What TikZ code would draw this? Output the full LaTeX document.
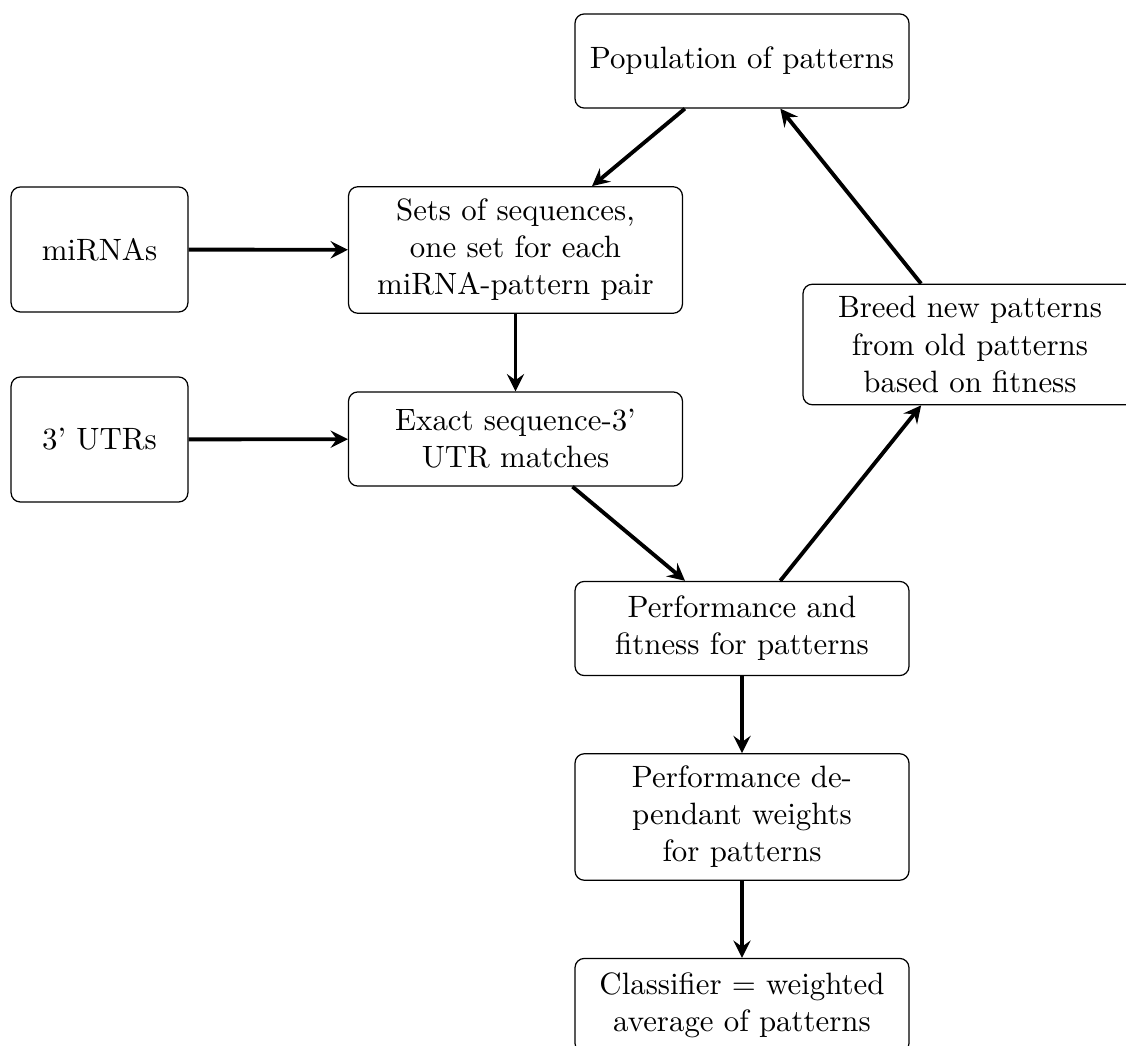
\documentclass[tikz,border=0pt]{standalone}
\usetikzlibrary{arrows.meta}
\begin{document}
\begin{tikzpicture}[x=0.324pt,y=-0.324pt,
  box/.style={draw,line width=0.4pt,rounded corners=3pt,align=center,
    inner sep=4pt,minimum width=108.2pt,minimum height=30.5pt},
  src/.style={draw,line width=0.4pt,rounded corners=3pt,align=center,
    inner sep=4pt,minimum width=57.3pt,minimum height=40.5pt},
  arr/.style={line width=1.25pt,-{Stealth[length=5.6pt,width=5.6pt,inset=2pt]}}]
\useasboundingbox (0,0) rectangle (1126,1046);
\node[box] (pop) at (742,61) {Population of patterns};
\node[src] (mirna) at (99.5,249.5) {miRNAs};
\node[box] (sets) at (515.5,250) {Sets of sequences,\\one set for each\\miRNA-pattern pair};
\node[box] (breed) at (970,344.5) {Breed new patterns\\from old patterns\\based on fitness};
\node[src] (utr) at (99.5,439.5) {3' UTRs};
\node[box] (exact) at (515.5,439) {Exact sequence-3'\\UTR matches};
\node[box] (perf) at (742,628.5) {Performance and\\fitness for patterns};
\node[box] (wts) at (742,817) {Performance de-\\pendant weights\\for patterns};
\node[box] (cls) at (742,1005.5) {Classifier $=$ weighted\\average of patterns};
\draw[arr] (pop) -- (sets);
\draw[arr] (mirna) -- (sets);
\draw[arr] (sets) -- (exact);
\draw[arr] (utr) -- (exact);
\draw[arr] (exact) -- (perf);
\draw[arr] (perf) -- (breed);
\draw[arr] (breed) -- (pop);
\draw[arr] (perf) -- (wts);
\draw[arr] (wts) -- (cls);
\end{tikzpicture}
\end{document}
